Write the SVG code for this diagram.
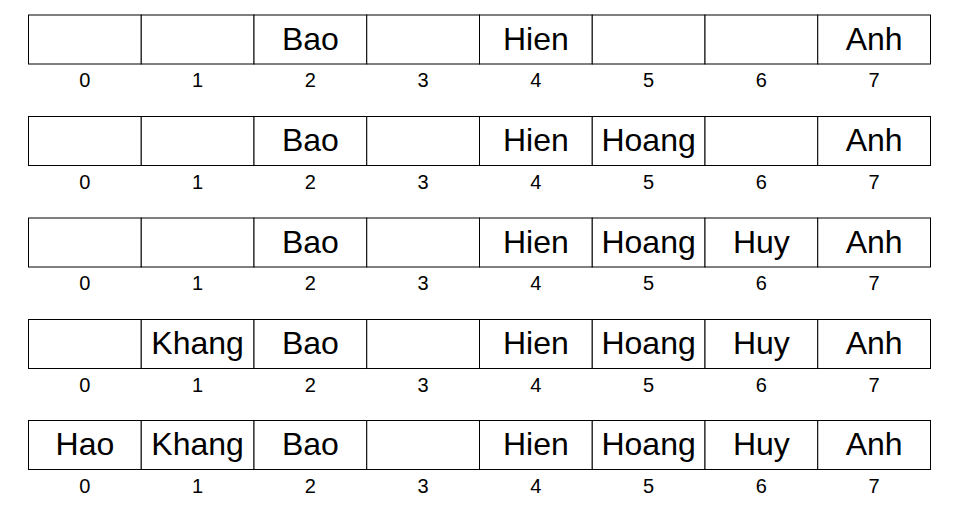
<svg xmlns="http://www.w3.org/2000/svg" width="967" height="514" viewBox="0 0 967 514">
<style>
.c{fill:#fff;stroke:#000;stroke-width:1}
.n{font-family:"Liberation Sans",Arial,sans-serif;font-size:32px;text-anchor:middle;fill:#000}
.i{font-family:"Liberation Sans",Arial,sans-serif;font-size:20px;text-anchor:middle;fill:#000}
</style>
<defs>
<g id="row">
<rect class="c" x="28.5" y="0" width="112.75" height="49"/>
<rect class="c" x="141.25" y="0" width="112.75" height="49"/>
<rect class="c" x="254" y="0" width="112.75" height="49"/>
<rect class="c" x="366.75" y="0" width="112.75" height="49"/>
<rect class="c" x="479.5" y="0" width="112.75" height="49"/>
<rect class="c" x="592.25" y="0" width="112.75" height="49"/>
<rect class="c" x="705" y="0" width="112.75" height="49"/>
<rect class="c" x="817.75" y="0" width="112.75" height="49"/>
<text class="i" x="84.9" y="72.3">0</text>
<text class="i" x="197.6" y="72.3">1</text>
<text class="i" x="310.4" y="72.3">2</text>
<text class="i" x="423.1" y="72.3">3</text>
<text class="i" x="535.9" y="72.3">4</text>
<text class="i" x="648.6" y="72.3">5</text>
<text class="i" x="761.4" y="72.3">6</text>
<text class="i" x="874.1" y="72.3">7</text>
</g>
</defs>
<g id="array1" transform="translate(0,15)">
<use href="#row"/>
<text class="n" x="310.4" y="34.5">Bao</text>
<text class="n" x="535.9" y="34.5">Hien</text>
<text class="n" x="874.1" y="34.5">Anh</text>
</g>
<g id="array2" transform="translate(0,116.5)">
<use href="#row"/>
<text class="n" x="310.4" y="34.5">Bao</text>
<text class="n" x="535.9" y="34.5">Hien</text>
<text class="n" x="648.6" y="34.5">Hoang</text>
<text class="n" x="874.1" y="34.5">Anh</text>
</g>
<g id="array3" transform="translate(0,218)">
<use href="#row"/>
<text class="n" x="310.4" y="34.5">Bao</text>
<text class="n" x="535.9" y="34.5">Hien</text>
<text class="n" x="648.6" y="34.5">Hoang</text>
<text class="n" x="761.4" y="34.5">Huy</text>
<text class="n" x="874.1" y="34.5">Anh</text>
</g>
<g id="array4" transform="translate(0,319.5)">
<use href="#row"/>
<text class="n" x="197.6" y="34.5">Khang</text>
<text class="n" x="310.4" y="34.5">Bao</text>
<text class="n" x="535.9" y="34.5">Hien</text>
<text class="n" x="648.6" y="34.5">Hoang</text>
<text class="n" x="761.4" y="34.5">Huy</text>
<text class="n" x="874.1" y="34.5">Anh</text>
</g>
<g id="array5" transform="translate(0,420.5)">
<use href="#row"/>
<text class="n" x="84.9" y="34.5">Hao</text>
<text class="n" x="197.6" y="34.5">Khang</text>
<text class="n" x="310.4" y="34.5">Bao</text>
<text class="n" x="535.9" y="34.5">Hien</text>
<text class="n" x="648.6" y="34.5">Hoang</text>
<text class="n" x="761.4" y="34.5">Huy</text>
<text class="n" x="874.1" y="34.5">Anh</text>
</g>
<g id="connectors"/>
</svg>
